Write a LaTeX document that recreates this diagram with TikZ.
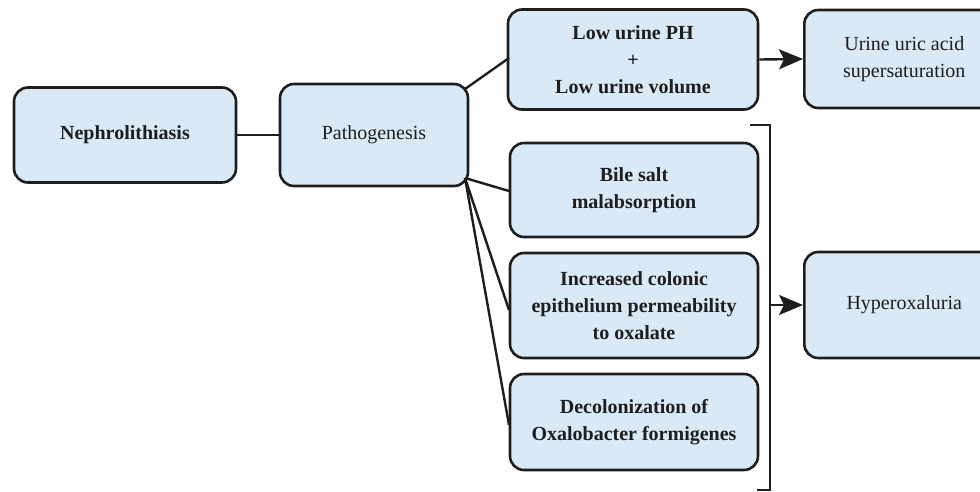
\documentclass[tikz,border=0pt]{standalone}
\usepackage{fontspec}
\setmainfont{Liberation Serif}
\usetikzlibrary{arrows.meta}
\definecolor{boxfill}{HTML}{DAE9F6}
\definecolor{ink}{HTML}{1E1E1E}
\tikzset{
  box/.style={draw=ink, line width=2.6pt, fill=boxfill, rounded corners=14pt,
    align=center, inner sep=0pt, font=\fontsize{20}{27}\selectfont, text=ink},
  conn/.style={draw=ink, line width=2.4pt},
  arr/.style={conn, -{Stealth[length=24pt,width=20pt,inset=5pt]}},
}
\begin{document}
\begin{tikzpicture}[x=1pt,y=-1pt]
\useasboundingbox (0,0) rectangle (980,491);
\clip (0,0) rectangle (980,491);
\node[box, minimum width=222pt, minimum height=95pt] (neph) at (125,135) {\bfseries Nephrolithiasis};
\node[box, minimum width=188pt, minimum height=102pt] (path) at (374,135) {Pathogenesis};
\node[box, minimum width=250pt, minimum height=100pt] (low) at (633,59.5) {\bfseries Low urine PH\\\bfseries +\\\bfseries Low urine volume};
\node[box, minimum width=200pt, minimum height=98pt, anchor=west] (uric) at (803,59) {Urine uric acid\\supersaturation};
\node[box, minimum width=248pt, minimum height=94pt] (bile) at (634,190) {\bfseries Bile salt\\\bfseries malabsorption};
\node[box, minimum width=248pt, minimum height=105pt] (incr) at (634,305.5) {\bfseries Increased colonic\\\bfseries epithelium permeability\\\bfseries to oxalate};
\node[box, minimum width=248pt, minimum height=96pt] (deco) at (634,422) {\bfseries Decolonization of\\\bfseries Oxalobacter formigenes};
\node[box, minimum width=200pt, minimum height=106pt, anchor=west] (hyper) at (803,305) {Hyperoxaluria};
\coordinate (pu) at (465,89);
\coordinate (pd) at (465,178);
\coordinate (lowin) at (509,58);
\coordinate (bilein) at (509,191);
\coordinate (incrin) at (509,310);
\coordinate (decoin) at (509,425);
\coordinate (bt) at (770,125);
\coordinate (bb) at (770,490);
\coordinate (bmid) at (770,305);
\draw[conn] (neph.east) -- (path.west);
\draw[conn] (pu) -- (lowin);
\draw[conn] (pd) -- (bilein);
\draw[conn] (pd) -- (incrin);
\draw[conn] (pd) -- (decoin);
\draw[arr] (low.east) -- (uric.west);
\draw[conn] (750,125) -- (bt) -- (bb) -- (757,490);
\draw[arr] (bmid) -- (hyper.west);
\end{tikzpicture}
\end{document}
